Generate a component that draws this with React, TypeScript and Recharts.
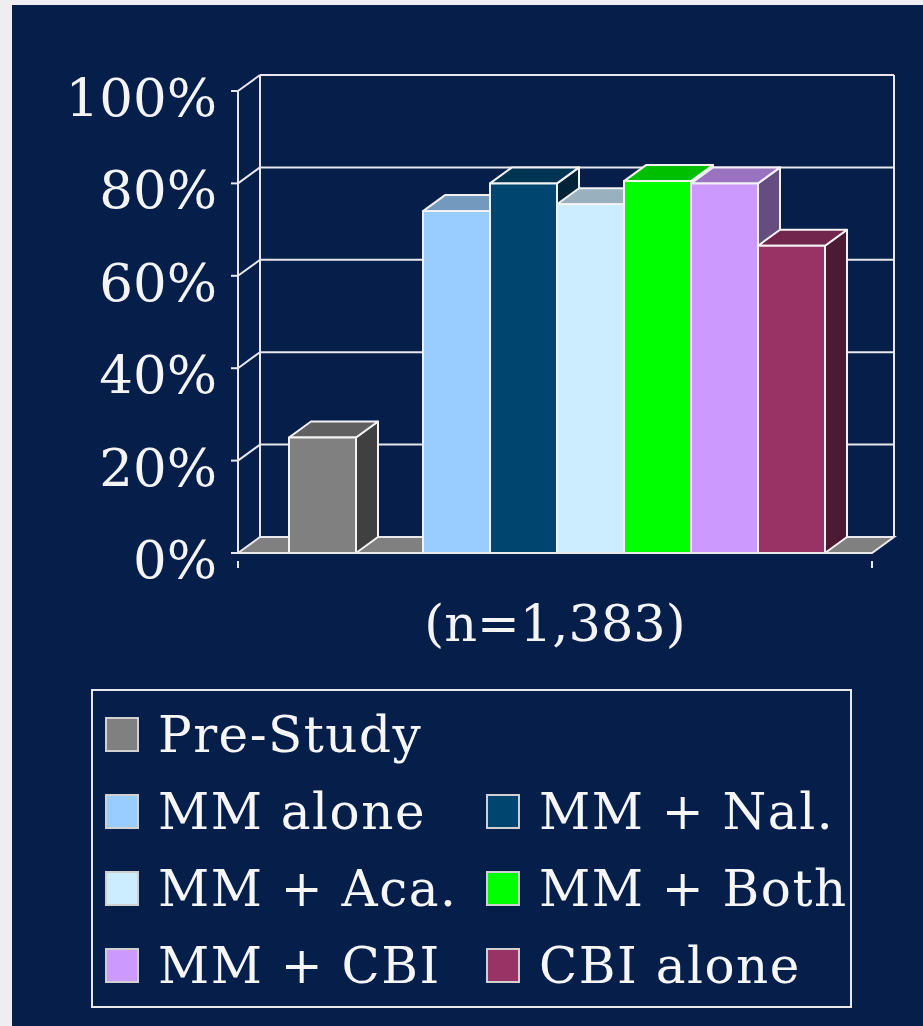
import React from "react";
import { BarChart, Bar, XAxis, YAxis, CartesianGrid } from "recharts";

// values (percent days abstinent, n = 1,383)
const category = "(n=1,383)";
const seriesNames = ["Pre-Study", "MM alone", "MM + Nal.", "MM + Aca.", "MM + Both", "MM + CBI", "CBI alone"];
const seriesValues = [25, 74, 80, 75.5, 80.5, 80, 66.5];
const seriesColors = ["#808080", "#99CCFF", "#00456F", "#CCECFF", "#00FF00", "#CC99FF", "#993366"];
const yTicks = [0, 20, 40, 60, 80, 100];

// legend layout: Pre-Study alone, then pairs
const legendRows = [[0], [1, 2], [3, 4], [5, 6]];

const FONT = "'DejaVu Serif', serif";
const LINE = "#e8e8ec";
const NAVY = "#061f4a";
const DX = 22;
const DY = 16;

const CHART_W = 923;
const CHART_H = 680;
const MARGIN = { top: 91, right: 51, left: 38, bottom: 27 };
const Y_AXIS_W = 200;

const row: Record<string, string | number> = { name: category };
seriesValues.forEach((v, i) => {
  row["s" + i] = v;
});
const data = [row];

function shade(hex: string, k: number) {
  const n = parseInt(hex.slice(1), 16);
  const r = Math.round(((n >> 16) & 255) * k);
  const g = Math.round(((n >> 8) & 255) * k);
  const b = Math.round((n & 255) * k);
  return `rgb(${r},${g},${b})`;
}

function makeBox(color: string) {
  return (props: any) => {
    const { x, y, width: w, height: h } = props;
    if (!h || h <= 0) return <g />;
    const top = `${x},${y} ${x + DX},${y - DY} ${x + w + DX},${y - DY} ${x + w},${y}`;
    const side = `${x + w},${y} ${x + w + DX},${y - DY} ${x + w + DX},${y + h - DY} ${x + w},${y + h}`;
    return (
      <g stroke="#f2f2f2" strokeWidth={2} strokeLinejoin="round">
        <polygon points={side} fill={shade(color, 0.5)} />
        <polygon points={top} fill={shade(color, 0.75)} />
        <rect x={x} y={y} width={w} height={h} fill={color} />
      </g>
    );
  };
}

// back wall, side wall and floor, drawn off the y-axis grid lines
function wallLine(props: any) {
  const { x1, x2, y1, y, height, index } = props;
  const bottom = y + height;
  const isBottom = Math.abs(y1 - bottom) < 1;
  const isTop = Math.abs(y1 - y) < 1;
  if (isBottom) {
    return (
      <polygon
        key={"floor" + index}
        points={`${x1},${y1} ${x1 + DX},${y1 - DY} ${x2 + DX},${y1 - DY} ${x2},${y1}`}
        fill="#808080"
        stroke={LINE}
        strokeWidth={2}
      />
    );
  }
  return (
    <g key={"wall" + index} stroke={LINE} strokeWidth={2} fill="none">
      <line x1={x1 + DX} y1={y1 - DY} x2={x2 + DX} y2={y1 - DY} />
      <line x1={x1} y1={y1} x2={x1 + DX} y2={y1 - DY} />
      {isTop && (
        <>
          <line x1={x1 + DX} y1={y - DY} x2={x1 + DX} y2={bottom - DY} />
          <line x1={x2 + DX} y1={y - DY} x2={x2 + DX} y2={bottom - DY} />
        </>
      )}
    </g>
  );
}

function YTick(props: any) {
  const { x, y, payload } = props;
  return (
    <text x={x - 12} y={y + 25} textAnchor="end" fill="#f4f4f4" fontFamily={FONT} fontSize={53}>
      {payload.value}%
    </text>
  );
}

function XTick(props: any) {
  const { x, y, payload } = props;
  const left = MARGIN.left + Y_AXIS_W;
  const right = CHART_W - MARGIN.right;
  return (
    <g>
      <line x1={left} y1={y} x2={left} y2={y + 7} stroke={LINE} strokeWidth={2} />
      <line x1={right} y1={y} x2={right} y2={y + 7} stroke={LINE} strokeWidth={2} />
      <text x={x} y={y + 80} textAnchor="middle" fill="#f4f4f4" fontFamily={FONT} fontSize={51}>
        {payload.value}
      </text>
    </g>
  );
}

function LegendBox() {
  const left = 92;
  const top = 690;
  const colX = [106, 487];
  return (
    <svg width={CHART_W} height={1026} style={{ position: "absolute", left: 0, top: 0, pointerEvents: "none" }}>
      <rect x={left} y={top} width={759} height={317} fill="none" stroke={LINE} strokeWidth={2} />
      {legendRows.map((r, ri) =>
        r.map((si, ci) => (
          <g key={si}>
            <rect
              x={colX[ci]}
              y={718 + ri * 77}
              width={32}
              height={33}
              fill={seriesColors[si]}
              stroke="#d0d0d0"
              strokeWidth={2}
            />
            <text
              x={colX[ci] + 52}
              y={752 + ri * 77}
              fill="#f6f6f6"
              fontFamily={FONT}
              fontSize={50}
              letterSpacing={1.5}
            >
              {seriesNames[si]}
            </text>
          </g>
        ))
      )}
    </svg>
  );
}

export default function App() {
  const bars = [0, -1, 1, 2, 3, 4, 5, 6];
  return (
    <div style={{ position: "relative", width: 923, height: 1026, background: "#eeeef0", overflow: "hidden" }}>
      <style>{`body{margin:0}`}</style>
      <div style={{ position: "absolute", left: 12, top: 5, width: 911, height: 1021, background: NAVY }} />
      <div style={{ position: "absolute", left: 0, top: 0 }}>
        <BarChart
          width={CHART_W}
          height={CHART_H}
          data={data}
          margin={MARGIN}
          barCategoryGap={51}
          barGap={0}
        >
          <CartesianGrid horizontal={wallLine} vertical={false} />
          <XAxis
            dataKey="name"
            height={100}
            axisLine={{ stroke: LINE, strokeWidth: 2 }}
            tickLine={false}
            tick={<XTick />}
            interval={0}
          />
          <YAxis
            domain={[0, 100]}
            ticks={yTicks}
            width={Y_AXIS_W}
            axisLine={{ stroke: LINE, strokeWidth: 2 }}
            tickLine={{ stroke: LINE, strokeWidth: 2 }}
            tickSize={7}
            tick={<YTick />}
          />
          {bars.map((si) =>
            si < 0 ? (
              <Bar key="gap" dataKey="gap" isAnimationActive={false} />
            ) : (
              <Bar
                key={si}
                dataKey={"s" + si}
                name={seriesNames[si]}
                fill={seriesColors[si]}
                shape={makeBox(seriesColors[si])}
                isAnimationActive={false}
              />
            )
          )}
        </BarChart>
      </div>
      <LegendBox />
    </div>
  );
}
